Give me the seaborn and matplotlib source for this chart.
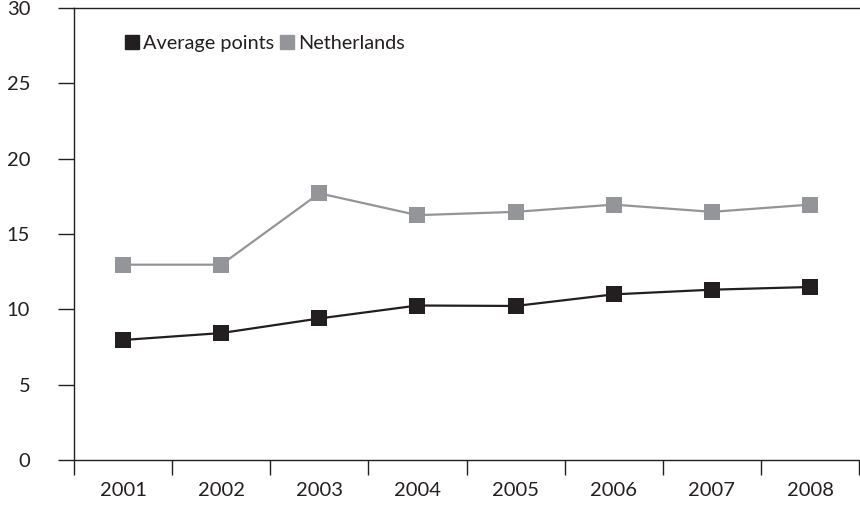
import numpy as np
import pandas as pd
import matplotlib
matplotlib.use("Agg")
import matplotlib.pyplot as plt
import seaborn as sns

# data
years = ["2001", "2002", "2003", "2004", "2005", "2006", "2007", "2008"]
average_points = [7.96, 8.42, 9.39, 10.25, 10.22, 10.99, 11.30, 11.48]
netherlands = [12.96, 12.96, 17.70, 16.25, 16.47, 16.95, 16.47, 16.95]
series_names = ["Average points", "Netherlands"]
yticks = [0, 5, 10, 15, 20, 25, 30]

df = pd.DataFrame({
    "pos": list(range(len(years))) * 2,
    "value": average_points + netherlands,
    "series": [series_names[0]] * len(years) + [series_names[1]] * len(years),
})

sns.set_style("white")
plt.rcParams["font.family"] = ["Lato", "DejaVu Sans"]

fig = plt.figure(figsize=(8.6, 5.07), dpi=100)
ax = fig.add_axes([0.086, 0.093, 0.913, 0.891])

palette = {"Average points": "#231f20", "Netherlands": "#939598"}
sns.lineplot(data=df, x="pos", y="value", hue="series", palette=palette,
             marker="s", markersize=11.5, markeredgewidth=0, linewidth=1.6,
             ax=ax, legend=False)

ax.set_xlim(-0.5, len(years) - 0.5)
ax.set_ylim(0, 30)
ax.set_xlabel("")
ax.set_ylabel("")

# category boundaries as major ticks, labels on minor ticks at the centres
ax.set_xticks(np.arange(-0.5, len(years), 1.0))
ax.set_xticklabels([])
ax.set_xticks(range(len(years)), minor=True)
ax.set_xticklabels(years, minor=True)
ax.tick_params(axis="x", which="major", direction="out", length=11, width=1,
               color="#231f20", bottom=True)
ax.tick_params(axis="x", which="minor", length=0, pad=16, labelsize=14.5,
               labelcolor="#231f20", bottom=True)

ax.set_yticks(yticks)
ax.tick_params(axis="y", direction="out", length=11.5, width=1, color="#231f20",
               pad=20, labelsize=14.5, labelcolor="#231f20", left=True)

for side in ["left", "bottom", "top"]:
    ax.spines[side].set_visible(True)
    ax.spines[side].set_color("#231f20")
    ax.spines[side].set_linewidth(1)
ax.spines["right"].set_visible(False)

handles = [plt.Line2D([], [], marker="s", linestyle="", markersize=10,
                      color=palette[n]) for n in series_names]
ax.legend(handles, series_names, ncol=2, frameon=False, loc="upper left",
          bbox_to_anchor=(0.043, 0.98), handlelength=0.6, handletextpad=0.3,
          columnspacing=0.3, fontsize=14.3, labelcolor="#231f20")

fig.savefig("out.png", dpi=100)
